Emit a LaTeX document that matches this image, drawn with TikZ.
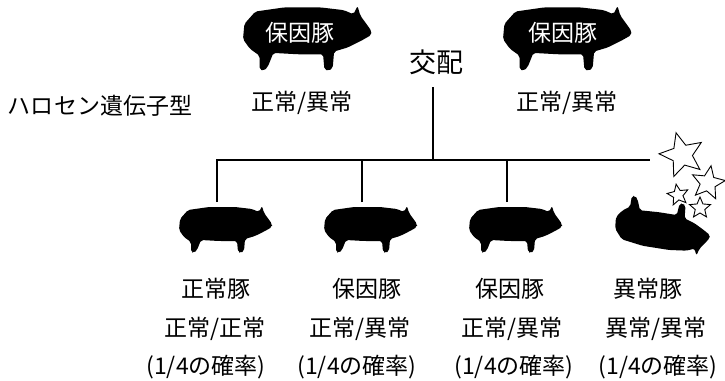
\documentclass[tikz,border=0pt]{standalone}
\usepackage{fontspec}
\newfontfamily\jp{Noto Sans CJK JP}
\usetikzlibrary{shapes}
\tikzset{
  pig/.pic={
    \fill[rounded corners=2pt] (1,13) -- (9,4) -- (30,1) -- (56,1) -- (73,3)
      -- (80,6) -- (83,0) -- (85,7) -- (88,11) -- (93,18) -- (93,21)
      -- (86,25) -- (76,30) -- (66,33) -- (65,45) -- (62,47) -- (59,46)
      -- (58,35) -- (40,35) -- (22,34) -- (18,44) -- (15,47) -- (12,46)
      -- (12,36) -- (5,31) -- (0,24) -- cycle;
    \coordinate (-top) at (38,-4);
  },
  lbl/.style={font=\jp\fontsize{23}{27}\selectfont, inner sep=0pt},
  link/.style={line width=1.6pt},
  flash/.style={star, star points=5, star point ratio=2.2, draw, fill=white,
    line width=0.9pt, inner sep=0pt}
}
\begin{document}
\begin{tikzpicture}[x=1pt, y=-1pt]
  \useasboundingbox (0,0) rectangle (725,380);
  % parents
  \pic[scale=1.38] (sire) at (243,6) {pig};
  \pic[scale=1.38] (dam) at (503,6) {pig};
  \node[lbl, text=white] (sirename) at (300,33) {保因豚};
  \node[lbl, text=white] (damname) at (563,33) {保因豚};
  \node[lbl] (siregt) at (302,103) {正常/異常};
  \node[lbl] (damgt) at (567,103) {正常/異常};
  \node[lbl] (gtype) at (100,106) {ハロセン遺伝子型};
  \node[lbl, font=\jp\fontsize{27}{31}\selectfont] (mate) at (436,62) {交配};
  % offspring
  \pic (p1) at (179,206) {pig};
  \pic (p2) at (324,206) {pig};
  \pic (p3) at (469,206) {pig};
  \pic[rotate=-9, yscale=-1.05, xscale=1.03] (p4) at (612,242) {pig};
  \node[flash, minimum size=46pt, rotate=15] (s1) at (682,155) {};
  \node[flash, minimum size=35pt, rotate=-10] (s2) at (708,183) {};
  \node[flash, minimum size=22pt, rotate=10] (s3) at (678,195) {};
  \node[flash, minimum size=22pt] (s4) at (700,208) {};
  % lines
  \coordinate (mtop) at (433,87);
  \coordinate (barR) at (650,160);
  \draw[link] (mtop) -- (mtop |- barR);
  \draw[link] (p1-top) |- (barR);
  \draw[link] (p2-top) -- (p2-top |- barR);
  \draw[link] (p3-top) -- (p3-top |- barR);
  % labels
  \node[lbl] (n1) at (216,289) {正常豚};
  \node[lbl] (n2) at (367,289) {保因豚};
  \node[lbl] (n3) at (510,289) {保因豚};
  \node[lbl] (n4) at (648,289) {異常豚};
  \node[lbl] (g1) at (215,329) {正常/正常};
  \node[lbl] (g2) at (360,329) {正常/異常};
  \node[lbl] (g3) at (512,329) {正常/異常};
  \node[lbl] (g4) at (656,329) {異常/異常};
  \node[lbl] (r1) at (206,367) {(1/4の確率)};
  \node[lbl] (r2) at (357,367) {(1/4の確率)};
  \node[lbl] (r3) at (514,367) {(1/4の確率)};
  \node[lbl] (r4) at (658,367) {(1/4の確率)};
\end{tikzpicture}
\end{document}
